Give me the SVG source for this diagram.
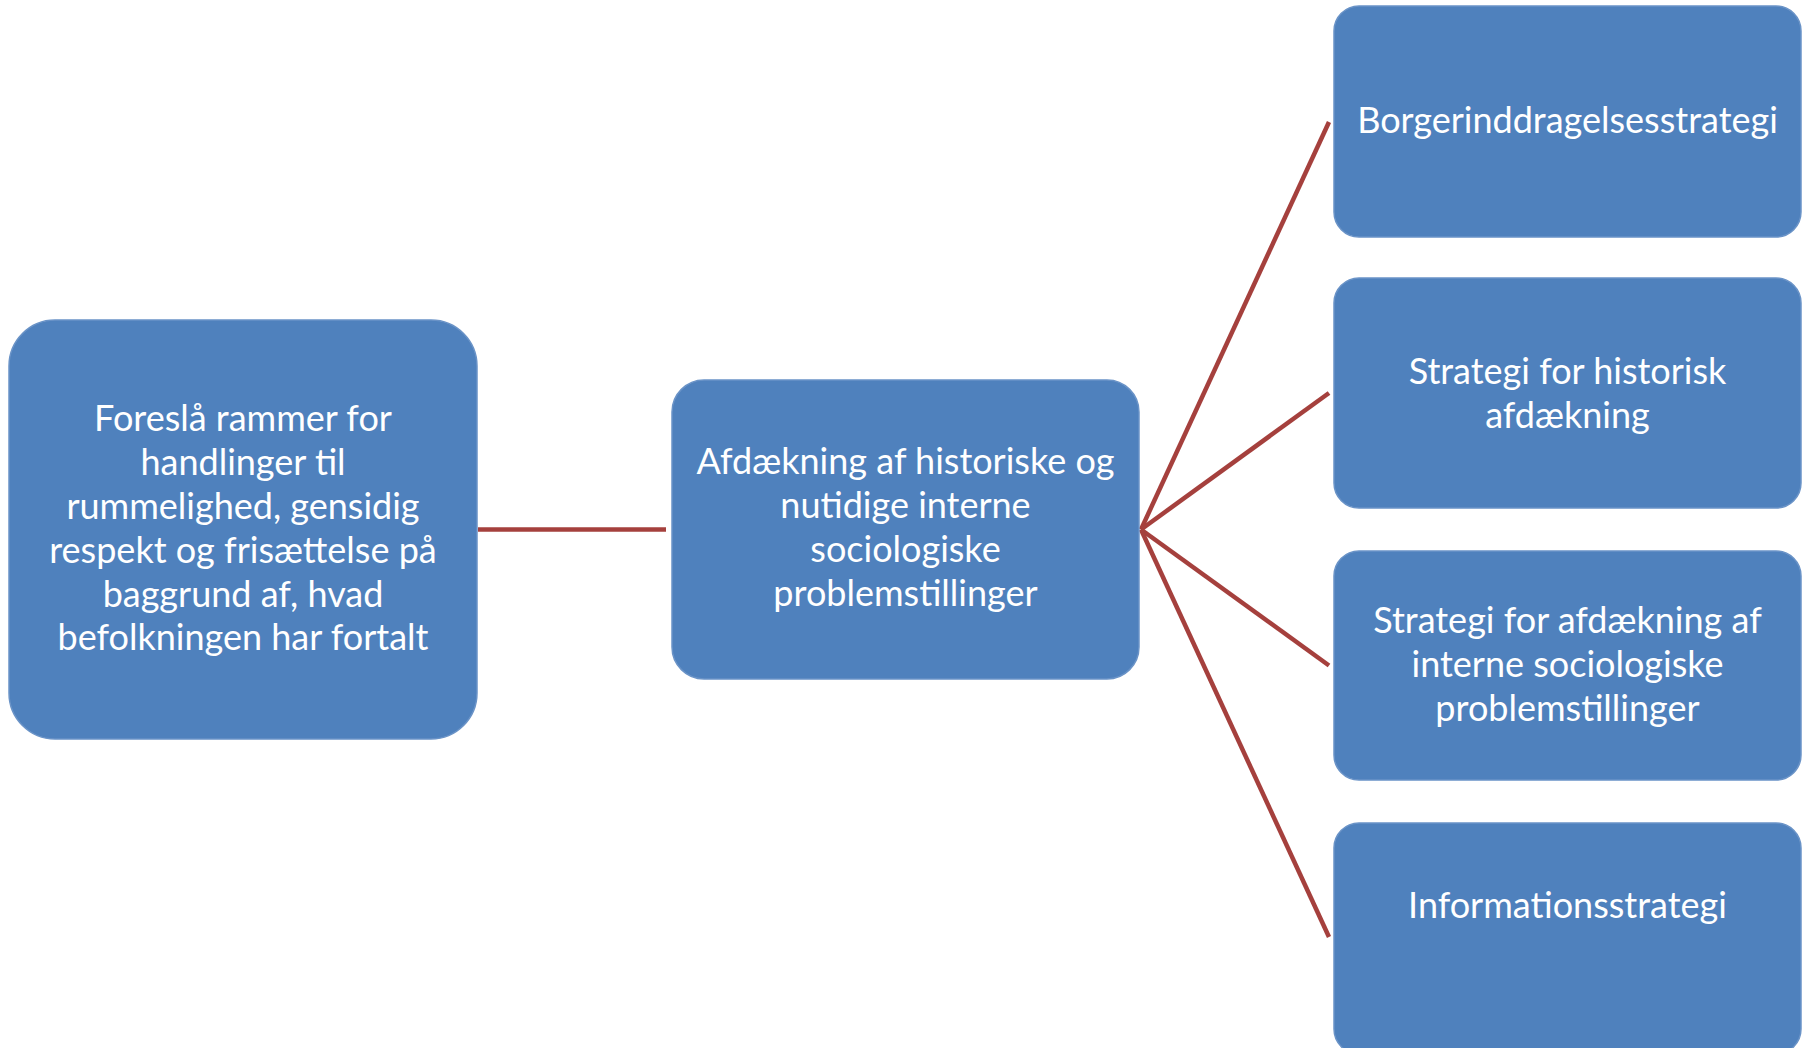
<svg xmlns="http://www.w3.org/2000/svg" width="1810" height="1048" viewBox="0 0 1810 1048">
<style>
.box{fill:#4F81BD;stroke:#6A93C7;stroke-width:1.5}
.t{font-family:Lato,"Open Sans","Liberation Sans",sans-serif;font-size:36px;fill:#FFFFFF;text-anchor:middle}
.c{stroke:#A5403D;stroke-width:4.5;fill:none}
</style>
<rect width="1810" height="1048" fill="#FFFFFF"/>
<g id="connectors">
<line class="c" x1="478" y1="529.5" x2="666" y2="529.5"/>
<line class="c" x1="1141" y1="529.5" x2="1329" y2="122"/>
<line class="c" x1="1141" y1="529.5" x2="1329" y2="393"/>
<line class="c" x1="1141" y1="529.5" x2="1329" y2="665.5"/>
<line class="c" x1="1141" y1="529.5" x2="1329" y2="937"/>
</g>
<g id="node-left">
<rect class="box" x="9" y="320" width="468" height="419" rx="46"/>
<text class="t" x="243" y="431">Foreslå rammer for</text>
<text class="t" x="243" y="475">handlinger til</text>
<text class="t" x="243" y="519">rummelighed, gensidig</text>
<text class="t" x="243" y="563">respekt og frisættelse på</text>
<text class="t" x="243" y="607">baggrund af, hvad</text>
<text class="t" x="243" y="650">befolkningen har fortalt</text>
</g>
<g id="node-middle">
<rect class="box" x="672" y="380" width="467" height="299" rx="32"/>
<text class="t" x="905.5" y="474">Afdækning af historiske og</text>
<text class="t" x="905.5" y="518">nutidige interne</text>
<text class="t" x="905.5" y="562">sociologiske</text>
<text class="t" x="905.5" y="606">problemstillinger</text>
</g>
<g id="node-r1">
<rect class="box" x="1334" y="6" width="467" height="231" rx="25"/>
<text class="t" x="1567.5" y="133">Borgerinddragelsesstrategi</text>
</g>
<g id="node-r2">
<rect class="box" x="1334" y="278" width="467" height="230" rx="25"/>
<text class="t" x="1567.5" y="384">Strategi for historisk</text>
<text class="t" x="1567.5" y="428">afdækning</text>
</g>
<g id="node-r3">
<rect class="box" x="1334" y="551" width="467" height="229" rx="25"/>
<text class="t" x="1567.5" y="633">Strategi for afdækning af</text>
<text class="t" x="1567.5" y="677">interne sociologiske</text>
<text class="t" x="1567.5" y="721">problemstillinger</text>
</g>
<g id="node-r4">
<rect class="box" x="1334" y="823" width="467" height="231" rx="25"/>
<text class="t" x="1567.5" y="918">Informationsstrategi</text>
</g>
</svg>
